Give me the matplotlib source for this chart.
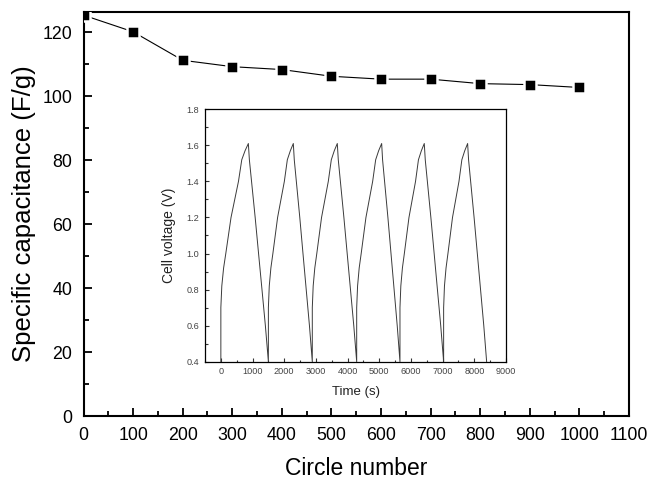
import matplotlib
matplotlib.use("Agg")
import matplotlib.pyplot as plt
from matplotlib.ticker import MultipleLocator

plt.rcParams['font.family'] = ['Liberation Sans', 'DejaVu Sans']

# Main data: specific capacitance vs cycle number
cycles = [0, 100, 200, 300, 400, 500, 600, 700, 800, 900, 1000]
capacitance = [125.3, 120.1, 111.2, 109.2, 108.3, 106.2, 105.3, 105.3, 103.9, 103.6, 102.7]

# Inset data: galvanostatic charge/discharge curves (time in s, voltage in V)
time_s = [
    0, 0, 30, 87, 156, 321, 556, 660, 764, 868,
    900, 1083, 1190, 1298, 1405, 1500,
    1500, 1528, 1579, 1642, 1791, 2004, 2098, 2193, 2287,
    2317, 2491, 2592, 2694, 2796, 2886,
    2886, 2914, 2965, 3028, 3178, 3391, 3486, 3580, 3675,
    3706, 3883, 3987, 4091, 4195, 4287,
    4287, 4315, 4366, 4429, 4579, 4791, 4886, 4980, 5075,
    5104, 5272, 5370, 5468, 5566, 5653,
    5653, 5680, 5730, 5791, 5937, 6144, 6236, 6328, 6420,
    6451, 6628, 6732, 6835, 6939, 7031,
    7031, 7057, 7107, 7167, 7311, 7515, 7606, 7697, 7788,
    7818, 7992, 8094, 8196, 8298, 8388,
]
voltage = [
    0.40, 0.70, 0.82, 0.92, 1.00, 1.20, 1.40, 1.52, 1.57, 1.61,
    1.52, 1.20, 1.00, 0.80, 0.60, 0.40,
    0.70, 0.82, 0.92, 1.00, 1.20, 1.40, 1.52, 1.57, 1.61,
    1.52, 1.20, 1.00, 0.80, 0.60, 0.40,
    0.70, 0.82, 0.92, 1.00, 1.20, 1.40, 1.52, 1.57, 1.61,
    1.52, 1.20, 1.00, 0.80, 0.60, 0.40,
    0.70, 0.82, 0.92, 1.00, 1.20, 1.40, 1.52, 1.57, 1.61,
    1.52, 1.20, 1.00, 0.80, 0.60, 0.40,
    0.70, 0.82, 0.92, 1.00, 1.20, 1.40, 1.52, 1.57, 1.61,
    1.52, 1.20, 1.00, 0.80, 0.60, 0.40,
    0.70, 0.82, 0.92, 1.00, 1.20, 1.40, 1.52, 1.57, 1.61,
    1.52, 1.20, 1.00, 0.80, 0.60, 0.40,
]

fig = plt.figure(figsize=(6.5, 4.79), dpi=100)
ax = fig.add_axes([0.1285, 0.1315, 0.8392, 0.8435])

ax.plot(cycles, capacitance, color='black', lw=0.8, marker='s',
        markersize=8.0, markerfacecolor='black', markeredgecolor='white',
        markeredgewidth=1.8, zorder=3)

ax.set_xlim(0, 1100)
ax.set_ylim(0, 126.3)
ax.xaxis.set_major_locator(MultipleLocator(100))
ax.xaxis.set_minor_locator(MultipleLocator(50))
ax.yaxis.set_major_locator(MultipleLocator(20))
ax.yaxis.set_minor_locator(MultipleLocator(10))
ax.tick_params(which='both', direction='in', top=False, right=False, width=1.3)
ax.tick_params(which='major', length=6, labelsize=12.8, pad=8)
ax.tick_params(which='minor', length=3.5)
for s in ax.spines.values():
    s.set_linewidth(1.5)
ax.set_xlabel('Circle number', fontsize=16.5, labelpad=9)
ax.set_ylabel('Specific capacitance (F/g)', fontsize=18.5, labelpad=5)

# Inset
ins = fig.add_axes([0.3154, 0.2449, 0.4631, 0.527])
ins.plot(time_s, voltage, color='#3a3a3a', lw=0.7)
ins.set_xlim(-500, 9000)
ins.set_ylim(0.4, 1.8)
ins.xaxis.set_major_locator(MultipleLocator(1000))
ins.xaxis.set_minor_locator(MultipleLocator(500))
ins.yaxis.set_major_locator(MultipleLocator(0.2))
ins.yaxis.set_minor_locator(MultipleLocator(0.1))
ins.yaxis.set_major_formatter(plt.FormatStrFormatter('%.1f'))
ins.tick_params(which='both', direction='in', top=False, right=False, width=0.8,
                color='#333333', labelcolor='#444444')
ins.tick_params(which='major', length=3, labelsize=6.6, pad=4)
ins.tick_params(which='minor', length=1.8)
for s in ins.spines.values():
    s.set_linewidth(0.9)
ins.set_xlabel('Time (s)', fontsize=9.5, labelpad=7, color='#222222')
ins.set_ylabel('Cell voltage (V)', fontsize=10, labelpad=8, color='#222222')

fig.savefig('out.png', dpi=100)
